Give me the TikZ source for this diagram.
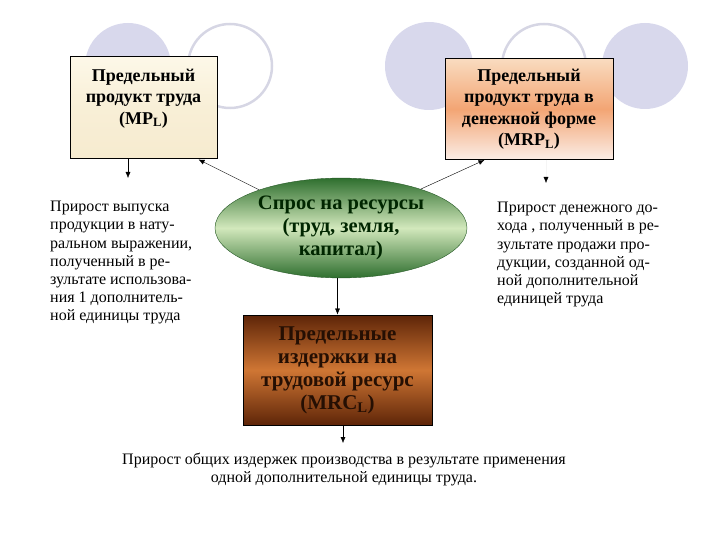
\documentclass[tikz,border=0pt]{standalone}
\usepackage{fontspec}
\setmainfont{Liberation Serif}
\usetikzlibrary{shapes.geometric,arrows.meta}
\definecolor{lavender}{HTML}{D8D8EC}
\definecolor{ringgray}{HTML}{D6D6E4}
\definecolor{paleA}{HTML}{FDF8E8}
\definecolor{paleB}{HTML}{F6EBCF}
\definecolor{peachA}{HTML}{F9DCC0}
\definecolor{peachB}{HTML}{F3A574}
\definecolor{peachC}{HTML}{FBEDE6}
\definecolor{greenA}{HTML}{2F6F2F}
\definecolor{greenB}{HTML}{D2E8BC}
\definecolor{brownA}{HTML}{5E2508}
\definecolor{brownB}{HTML}{CF7634}
\tikzset{
  box/.style={draw=black, rectangle, line width=1pt, align=center,
    font=\fontsize{18}{21.5}\selectfont\bfseries},
  note/.style={align=left, inner sep=0pt,
    font=\fontsize{16}{18.2}\selectfont},
  link/.style={-{Latex[length=6pt,width=5pt]}, thin}
}
\begin{document}
\begin{tikzpicture}[x=1pt, y=-1pt]
  \useasboundingbox (0,0) rectangle (720,540);
  % кружки сверху
  \fill[lavender] (128,66) circle (43);
  \draw[ringgray, line width=2.5pt] (230,66) circle (42);
  \fill[lavender] (429,66) circle (44);
  \draw[ringgray, line width=2.5pt] (544,66) circle (42);
  \fill[lavender] (645,66) circle (43);
  % блоки
  \node[box, minimum width=147, minimum height=102,
    top color=paleA, bottom color=paleB, middle color=paleB!70!paleA]
    (mpl) at (143.5,108)
    {\parbox[c][78pt][t]{140pt}{\centering Предельный\\продукт труда\\(MP\textsubscript{L})}};
  \node[box, minimum width=168, minimum height=101,
    top color=peachA, bottom color=peachC, middle color=peachB]
    (mrpl) at (529,109)
    {Предельный\\продукт труда в\\денежной форме\\(MRP\textsubscript{L})};
  \node[ellipse, draw=greenA!80!black, minimum width=252, minimum height=90,
    top color=greenA, bottom color=greenA, middle color=greenB,
    align=center, font=\fontsize{20.5}{23}\selectfont\bfseries, text=black!85!green]
    (res) at (341,228)
    {Спрос на ресурсы\\(труд, земля,\\капитал)};
  \node[box, minimum width=189, minimum height=110,
    top color=brownA, bottom color=brownA, middle color=brownB,
    font=\fontsize{21}{23}\selectfont\bfseries, text=brownA!40!black]
    (mrc) at (337.5,370)
    {Предельные\\издержки на\\трудовой ресурс\\(MRC\textsubscript{L})};
  % пояснения
  \node[note, anchor=north west] (mpltxt) at (50,201)
    {Прирост выпуска\\продукции в нату-\\ральном выражении,\\полученный в ре-\\зультате использова-\\ния 1 дополнитель-\\ной единицы труда};
  \node[note, anchor=north west] (mrpltxt) at (497,202)
    {Прирост денежного до-\\хода , полученный в ре-\\зультате продажи про-\\дукции, созданной од-\\ной дополнительной\\единицей труда};
  \node[note, align=center, anchor=north] (mrctxt) at (344,453)
    {Прирост общих издержек производства в результате применения\\одной дополнительной единицы труда.};
  % стрелки
  \coordinate (mplend) at ([xshift=-15.5pt]mpl.south |- 0,178);
  \coordinate (mrplend) at ([xshift=17pt]mrpl.south |- 0,183);
  \coordinate (mrcend) at ([xshift=5.5pt]mrc.south |- 0,443);
  \draw[link] ([xshift=-15.5pt]mpl.south) -- (mplend);
  \draw[link] (res.155) -- ([xshift=-19pt]mpl.south east);
  \draw[link] (res.26) -- ([xshift=40pt]mrpl.south west);
  \draw[link, draw=black!4, -{Latex[length=6pt,width=5pt,black]}]
    ([xshift=17pt]mrpl.south) -- (mrplend);
  \draw[link] (res.south -| mrc.north) -- (mrc.north);
  \draw[link] ([xshift=5.5pt]mrc.south) -- (mrcend);
\end{tikzpicture}
\end{document}
